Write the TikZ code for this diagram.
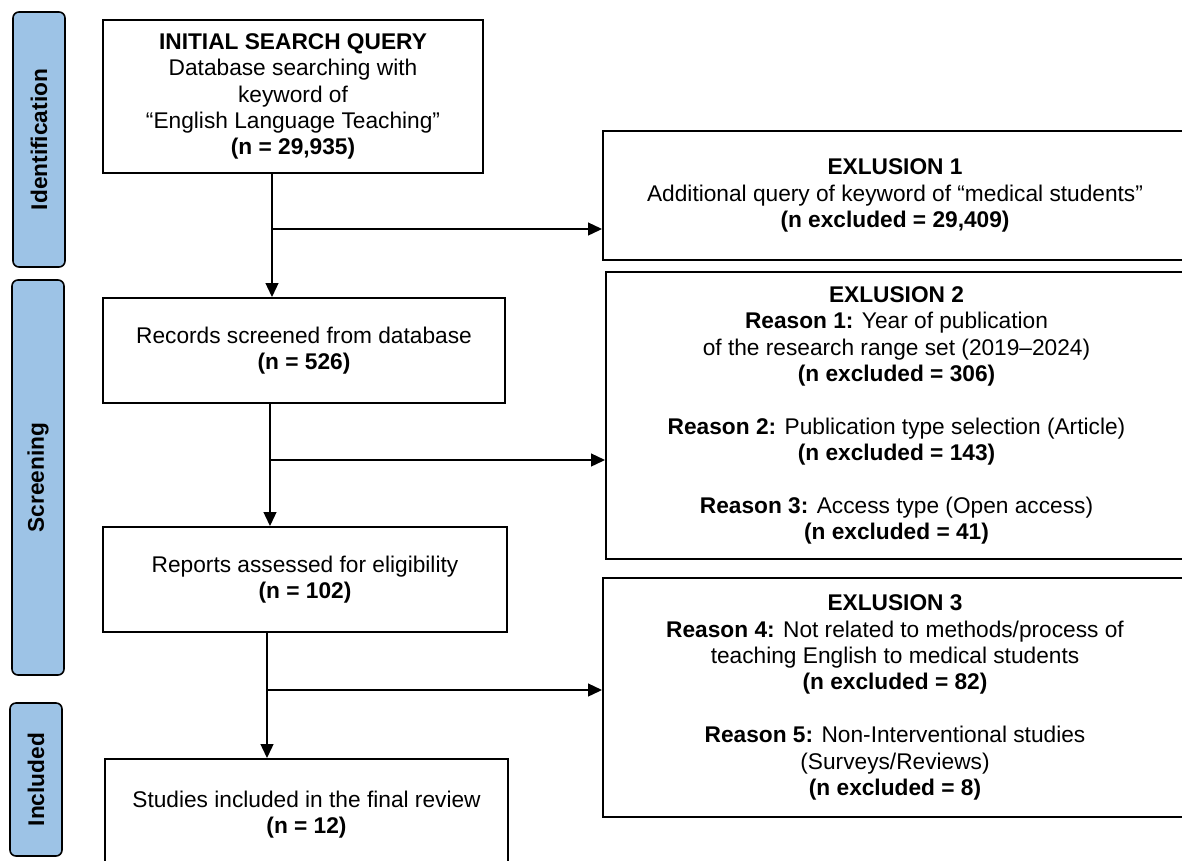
\documentclass[tikz,border=0pt]{standalone}
\usepackage{fontspec}
\setmainfont{Liberation Sans}
\usetikzlibrary{arrows.meta, positioning, calc}
\definecolor{stageblue}{RGB}{157, 195, 230}

\tikzset{
  stage/.style={draw=black, fill=stageblue, line width=1.6pt, rounded corners=6pt, rotate=90, inner sep=0pt, minimum height=52pt, font=\bfseries\fontsize{22.7}{26}\selectfont},
  flowbox/.style={draw=black, line width=2pt, align=center, inner sep=0pt, font=\fontsize{22.7}{26.4}\selectfont},
  arr/.style={-{Triangle[length=14pt, width=13pt]}, line width=1.3pt}
}

\begin{document}
\begin{tikzpicture}[x=1pt, y=-1pt]
  \useasboundingbox (0, 0) rectangle (1182, 860);
  \clip (0, 0) rectangle (1182, 860);

  % Stage bars
  \node[stage, minimum width=255pt] (ident) at (39, 139.5) {Identification};
  \node[stage, minimum width=395pt] (screen) at (38, 477.5) {Screening};
  \node[stage, minimum width=153pt] (incl) at (36, 779.5) {Included};

  % Main column
  \node[flowbox, minimum width=380pt, minimum height=153pt] (init) at (293, 96.5) {
    \textbf{INITIAL SEARCH QUERY}\\
    Database searching with\\
    keyword of\\
    “English Language Teaching”\\
    \textbf{(n = 29,935)}
  };
  \node[flowbox, minimum width=402pt, minimum height=105pt] (rec) at (304, 350.5) {
    Records screened from database\\
    \textbf{(n = 526)}
  };
  \node[flowbox, minimum width=404pt, minimum height=105pt] (rep) at (305, 579.5) {
    Reports assessed for eligibility\\
    \textbf{(n = 102)}
  };
  \node[flowbox, minimum width=403pt, minimum height=111pt] (stud) at (306.5, 814.5) {
    Studies included in the final review\\
    \textbf{(n = 12)}
  };

  % Exclusion boxes
  \node[flowbox, minimum width=584pt, minimum height=129pt] (ex1) at (895, 195.5) {
    \textbf{EXLUSION 1}\\
    Additional query of keyword of “medical students”\\
    \textbf{(n excluded = 29,409)}
  };
  \node[flowbox, minimum width=581pt, minimum height=287pt] (ex2) at (896.5, 415.5) {
    \textbf{EXLUSION 2}\\
    \textbf{Reason 1:} Year of publication\\
    of the research range set (2019–2024)\\
    \textbf{(n excluded = 306)}\\[26.4pt]
    \textbf{Reason 2:} Publication type selection (Article)\\
    \textbf{(n excluded = 143)}\\[26.4pt]
    \textbf{Reason 3:} Access type (Open access)\\
    \textbf{(n excluded = 41)}
  };
  \node[flowbox, minimum width=584pt, minimum height=239pt] (ex3) at (895, 697.5) {
    \textbf{EXLUSION 3}\\
    \textbf{Reason 4:} Not related to methods/process of\\
    teaching English to medical students\\
    \textbf{(n excluded = 82)}\\[26.4pt]
    \textbf{Reason 5:} Non-Interventional studies\\
    (Surveys/Reviews)\\
    \textbf{(n excluded = 8)}
  };

  % Connectors
  \coordinate (j1) at (272, 229);
  \coordinate (j2) at (270, 460);
  \coordinate (j3) at (267, 690);
  \draw[arr] (init.south -| j1) -- (rec.north -| j1);
  \draw[arr] (j1) -- (j1 -| ex1.west);
  \draw[arr] (rec.south -| j2) -- (rep.north -| j2);
  \draw[arr] (j2) -- (j2 -| ex2.west);
  \draw[arr] (rep.south -| j3) -- (stud.north -| j3);
  \draw[arr] (j3) -- (j3 -| ex3.west);
\end{tikzpicture}
\end{document}
